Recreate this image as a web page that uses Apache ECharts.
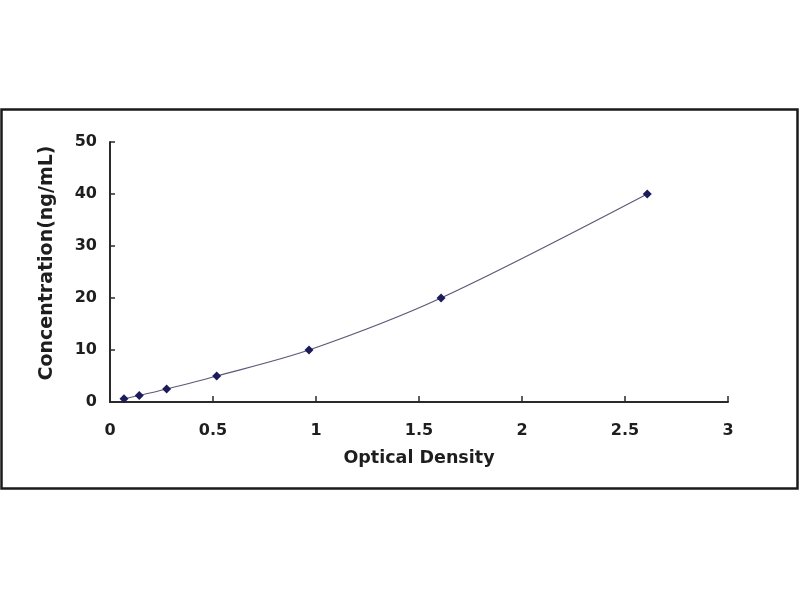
<!DOCTYPE html>
<html>
<head>
<meta charset="utf-8">
<script src="https://cdn.jsdelivr.net/npm/echarts@6/dist/echarts.min.js"></script>
<style>
html,body{margin:0;padding:0;background:#fff;}
#chart{width:800px;height:600px;}
</style>
</head>
<body>
<div id="chart"></div>
<script>
var opticalDensity = [0.068, 0.142, 0.275, 0.518, 0.966, 1.607, 2.608];
var concentration = [0.625, 1.25, 2.5, 5, 10, 20, 40];
var xTicks = [0, 0.5, 1, 1.5, 2, 2.5, 3];
var yTicks = [0, 10, 20, 30, 40, 50];

var points = opticalDensity.map(function (x, i) { return [x, concentration[i]]; });
var fontFam = '"DejaVu Sans", "Liberation Sans", Arial, sans-serif';
var txt = '#1e1e1e';

var chart = echarts.init(document.getElementById('chart'));
chart.setOption({
  animation: false,
  backgroundColor: '#fff',
  graphic: [{
    type: 'rect',
    shape: { x: 1.5, y: 109.5, width: 796, height: 379 },
    style: { fill: 'none', stroke: '#1a1a1a', lineWidth: 2.5 },
    silent: true
  }],
  grid: { left: 110, right: 72, top: 142, bottom: 198 },
  xAxis: {
    type: 'value',
    min: 0, max: 3, interval: 0.5,
    name: 'Optical Density',
    nameLocation: 'middle',
    nameGap: 47,
    nameTextStyle: { fontFamily: fontFam, fontWeight: 'bold', fontSize: 17.5, color: txt },
    axisLine: { show: true, onZero: false, lineStyle: { color: '#2a2a2a', width: 2 } },
    axisTick: { show: true, inside: true, length: 6, lineStyle: { color: '#2a2a2a', width: 1.5 } },
    axisLabel: {
      fontFamily: fontFam, fontWeight: 'bold', fontSize: 16, color: txt, margin: 21,
      formatter: function (v) { return xTicks.indexOf(v) >= 0 ? String(v) : ''; }
    },
    splitLine: { show: false }
  },
  yAxis: {
    type: 'value',
    min: 0, max: 50, interval: 10,
    name: 'Concentration(ng/mL)',
    nameLocation: 'middle',
    nameGap: 53,
    nameTextStyle: { fontFamily: fontFam, fontWeight: 'bold', fontSize: 19, color: txt, padding: [0, 0, 0, 18] },
    axisLine: { show: true, onZero: false, lineStyle: { color: '#2a2a2a', width: 2 } },
    axisTick: { show: true, inside: true, length: 5, lineStyle: { color: '#2a2a2a', width: 1.5 } },
    axisLabel: {
      fontFamily: fontFam, fontWeight: 'bold', fontSize: 16, color: txt, margin: 13,
      formatter: function (v) { return yTicks.indexOf(v) >= 0 ? String(v) : ''; }
    },
    splitLine: { show: false }
  },
  series: [{
    type: 'line',
    data: points,
    smooth: 0.3,
    symbol: 'diamond',
    symbolSize: 9,
    showAllSymbol: true,
    itemStyle: { color: '#1c1c5a' },
    lineStyle: { color: '#5a5a78', width: 1.2 }
  }]
});
</script>
</body>
</html>
